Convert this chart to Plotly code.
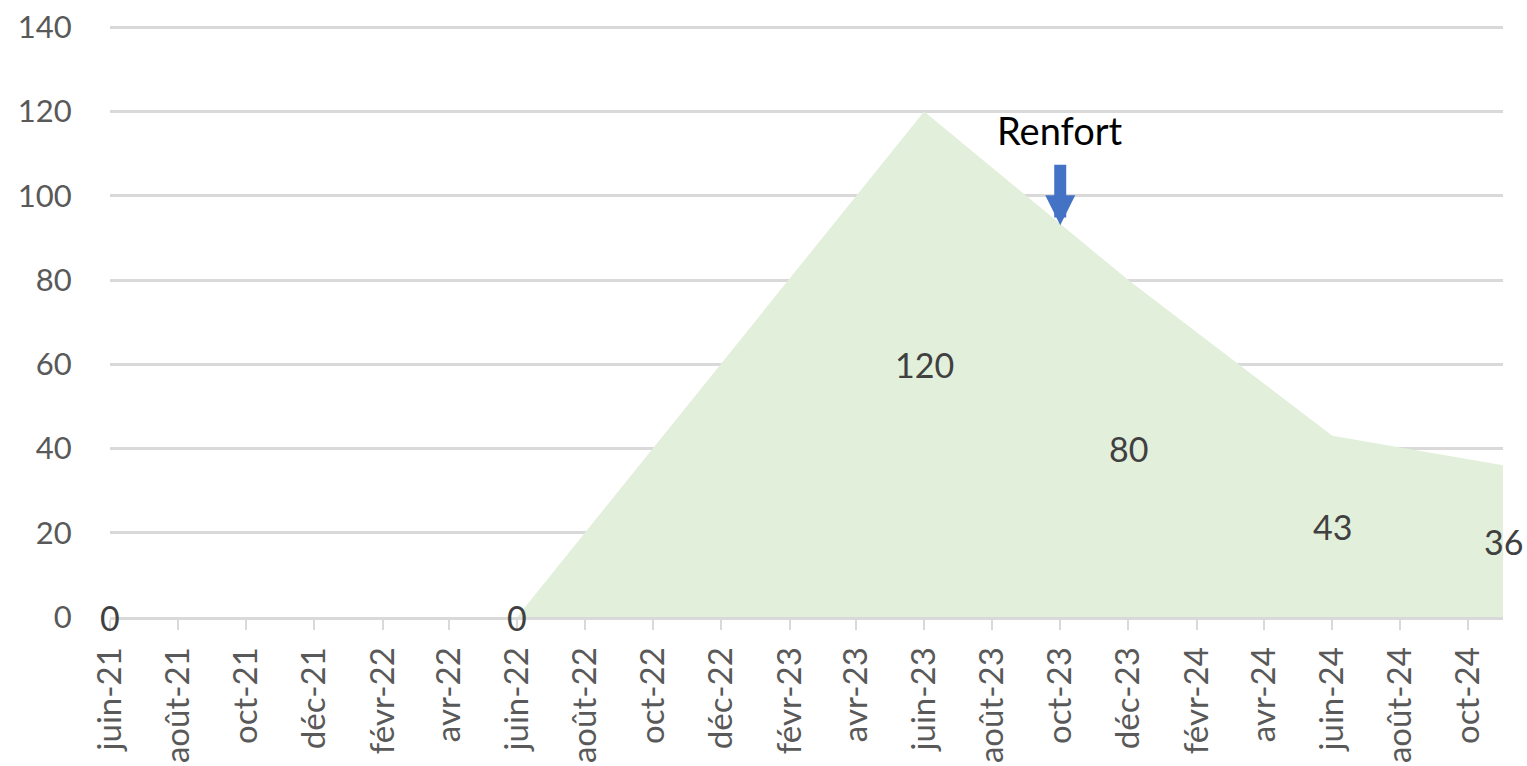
import plotly.graph_objects as go

# Data
dates = ["2021-06-01", "2022-06-01", "2023-06-01", "2023-12-01", "2024-06-01", "2024-11-01"]
values = [0, 0, 120, 80, 43, 36]

tick_dates = ["2021-06-01", "2021-08-01", "2021-10-01", "2021-12-01", "2022-02-01", "2022-04-01",
              "2022-06-01", "2022-08-01", "2022-10-01", "2022-12-01", "2023-02-01", "2023-04-01",
              "2023-06-01", "2023-08-01", "2023-10-01", "2023-12-01", "2024-02-01", "2024-04-01",
              "2024-06-01", "2024-08-01", "2024-10-01"]
tick_labels = ["juin-21", "août-21", "oct-21", "déc-21", "févr-22", "avr-22",
               "juin-22", "août-22", "oct-22", "déc-22", "févr-23", "avr-23",
               "juin-23", "août-23", "oct-23", "déc-23", "févr-24", "avr-24",
               "juin-24", "août-24", "oct-24"]
y_ticks = [0, 20, 40, 60, 80, 100, 120, 140]

annot_date = "2023-10-01"
annot_text = "Renfort"
annot_tip_value = 93
annot_text_value = 115.5

FONT = "Lato"

fig = go.Figure()
fig.add_trace(go.Scatter(
    x=dates, y=values, mode="lines", fill="tozeroy",
    fillcolor="rgb(226,239,218)", line=dict(width=0, color="rgb(226,239,218)"),
    hoverinfo="skip", showlegend=False,
))

# data labels, centred at half height of the area (Excel style)
for d, v in zip(dates, values):
    fig.add_annotation(
        x=d, y=v / 2, xref="x", yref="y", text=str(v), showarrow=False,
        font=dict(family=FONT, size=34, color="#404040"),
    )

fig.add_annotation(
    x=annot_date, y=annot_tip_value, xref="x", yref="y",
    ax=0, ay=-62, axref="pixel", ayref="pixel",
    showarrow=True, arrowhead=2, arrowwidth=12, arrowsize=0.5,
    arrowcolor="#4472C4", text="",
)
fig.add_annotation(
    x=annot_date, y=annot_text_value, xref="x", yref="y",
    text=annot_text, showarrow=False,
    font=dict(family=FONT, size=38, color="#000000"),
)

fig.update_layout(
    width=1527, height=766,
    margin=dict(l=110, r=24, t=26, b=149),
    plot_bgcolor="white", paper_bgcolor="white",
    font=dict(family=FONT, color="#595959"),
)
fig.update_xaxes(
    type="date", range=["2021-06-01", "2024-11-01"], automargin=False,
    tickvals=tick_dates, ticktext=tick_labels, tickangle=-90,
    tickfont=dict(family=FONT, size=33, color="#595959"),
    ticklabelstandoff=4,
    showgrid=False, showline=True, linecolor="#D9D9D9", linewidth=3,
    ticks="outside", ticklen=10, tickwidth=2, tickcolor="#D9D9D9",
    zeroline=False,
)
fig.update_yaxes(
    range=[0, 140.3], tickvals=y_ticks, automargin=False,
    tickfont=dict(family=FONT, size=31, color="#595959"),
    showgrid=True, gridcolor="#D9D9D9", gridwidth=3,
    zeroline=False, showline=False,
    ticks="outside", ticklen=31, tickcolor="rgba(0,0,0,0)",
)

fig.write_html("out.html", config={"displayModeBar": False},
               post_script="document.body.style.margin='0';document.body.style.padding='0';")
